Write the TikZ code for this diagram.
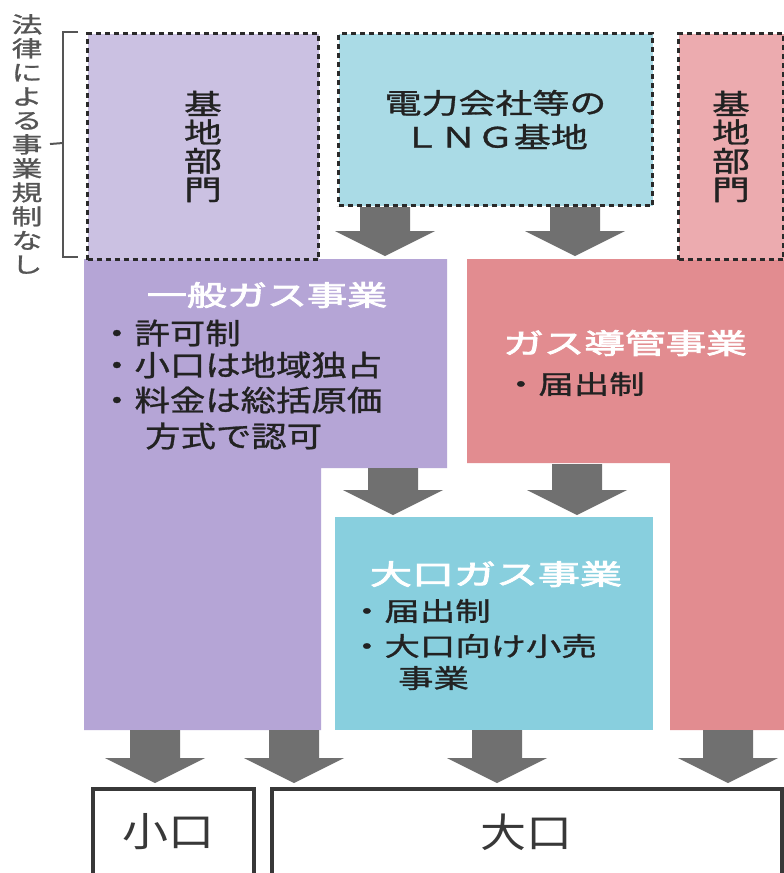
\documentclass[tikz,border=0pt]{standalone}
\usepackage{fontspec}
\usepackage{graphicx}
\newfontfamily\jp{Noto Sans CJK JP}
\newfontfamily\jpm{Noto Sans CJK JP}[FakeBold=1]
\newfontfamily\jpb{Noto Sans CJK JP}[FakeBold=2.5]
\newcommand\wx[2]{\scalebox{#1}[1]{#2}}
\definecolor{purpleDash}{HTML}{CBC1E2}
\definecolor{purpleMain}{HTML}{B5A5D6}
\definecolor{cyanDash}{HTML}{AADBE6}
\definecolor{cyanMain}{HTML}{88CFDE}
\definecolor{pinkDash}{HTML}{ECABAF}
\definecolor{pinkMain}{HTML}{E28C90}
\definecolor{arrowc}{HTML}{707070}
\definecolor{dashc}{HTML}{2A2A2A}
\definecolor{txtc}{HTML}{222222}
\definecolor{boxc}{HTML}{383838}
\definecolor{bracketc}{HTML}{555555}
\tikzset{
  dashbox/.style={draw=dashc, line width=3pt, dash pattern=on 5pt off 4pt,
    inner sep=0pt, anchor=north west, align=center, text=txtc},
  txt/.style={inner sep=0pt, text=txtc},
  body/.style={txt, anchor=west, font=\jpm\fontsize{29}{35}\selectfont},
  bodys/.style={txt, anchor=west, font=\jpm\fontsize{26}{34}\selectfont},
  head/.style={inner sep=0pt, text=white, font=\jpb\fontsize{28}{28}\selectfont},
  vert/.style={font=\jpm\fontsize{28}{28.5}\selectfont},
  outbox/.style={draw=boxc, line width=4pt, inner sep=0pt, anchor=north west},
  bracket/.style={draw=bracketc, line width=2pt},
  darr/.pic={\fill[arrowc] (-25,0) -- (25,0) -- (25,{#1-25}) -- (50,{#1-25})
      -- (0,#1) -- (-50,{#1-25}) -- (-25,{#1-25}) -- cycle;},
  darr/.default=48
}
\begin{document}
\begin{tikzpicture}[x=1pt,y=-1pt]
\useasboundingbox (0,0) rectangle (784,873);
\clip (0,0) rectangle (784,873);
\fill[white] (0,0) rectangle (784,873);

% left label and bracket
\node[txt, align=center, text=bracketc, font=\jpm\fontsize{22}{24}\selectfont] (law) at (27,144)
  {\wx{1.4}{法}\\\wx{1.4}{律}\\\wx{1.4}{に}\\\wx{1.4}{よ}\\\wx{1.4}{る}\\\wx{1.4}{事}\\\wx{1.4}{業}\\\wx{1.4}{規}\\\wx{1.4}{制}\\\wx{1.4}{な}\\\wx{1.4}{し}};
\coordinate (brtop) at (78,32);
\coordinate (brbot) at (78,257);
\coordinate (brmid) at (63,143);
\draw[bracket] (brtop) -- (63,32) -- (63,257) -- (brbot);
\draw[bracket] (brmid) -- (law.east -| 50,0);

% main business areas (L-shapes)
\fill[purpleMain] (84,259) -- (447,259) -- (447,468) -- (321,468) -- (321,730) -- (84,730) -- cycle;
\coordinate (general) at (265,259);
\fill[pinkMain] (467,259) -- (784,259) -- (784,730) -- (670,730) -- (670,463) -- (467,463) -- cycle;
\coordinate (pipe) at (625,259);
\node[fill=cyanMain, inner sep=0pt, minimum width=318, minimum height=213, anchor=north west] (large) at (335,517) {};

% dashed top boxes
\node[dashbox, fill=purpleDash, minimum width=231, minimum height=226, vert] (baseL) at (86,32)
  {\wx{1.35}{基}\\\wx{1.35}{地}\\\wx{1.35}{部}\\\wx{1.35}{門}};
\node[dashbox, fill=cyanDash, minimum width=314, minimum height=172,
      font=\jpm\fontsize{28}{34}\selectfont] (lng) at (337,32)
  {\wx{1.32}{電力会社等の}\\\wx{1.32}{ＬＮＧ基地}};
\node[dashbox, fill=pinkDash, minimum width=105, minimum height=226, vert] (baseR) at (677,32)
  {\wx{1.35}{基}\\\wx{1.35}{地}\\\wx{1.35}{部}\\\wx{1.35}{門}};

% texts
\node[head] (genh) at (267,295) {\wx{1.43}{一般ガス事業}};
\node[body] (g1) at (99,333) {\wx{1.22}{・許可制}};
\node[body] (g2) at (99,365) {\wx{1.22}{・小口は地域独占}};
\node[body] (g3) at (99,400) {\wx{1.22}{・料金は総括原価}};
\node[body] (g4) at (145,436) {\wx{1.22}{方式で認可}};

\node[head] (pipeh) at (625,343) {\wx{1.45}{ガス導管事業}};
\node[bodys] (p1) at (503,384) {\wx{1.36}{・届出制}};

\node[head] (largeh) at (496,574) {\wx{1.5}{大口ガス事業}};
\node[bodys] (l1) at (349,611) {\wx{1.36}{・届出制}};
\node[bodys] (l2) at (349,646) {\wx{1.36}{・大口向け小売}};
\node[bodys] (l3) at (398,678) {\wx{1.36}{事業}};

% arrows
\pic at (lng.south -| 385,0) {darr=49};
\pic at (lng.south -| 575,0) {darr=49};
\pic at (393,468) {darr=47};
\pic at (577,464) {darr=51};
\pic at (155,730) {darr=53};
\pic at (294,730) {darr=53};
\pic at (497,730) {darr=53};
\pic at (728,730) {darr=53};

% bottom boxes
\node[outbox, minimum width=161, minimum height=110] (small) at (91,787) {};
\node[outbox, minimum width=510, minimum height=110] (big) at (270,787) {};
\node[txt, text=boxc, font=\jp\fontsize{40}{40}\selectfont] (smallt) at (168,832) {\wx{1.15}{小口}};
\node[txt, text=boxc, font=\jp\fontsize{40}{40}\selectfont] (bigt) at (526,832) {\wx{1.15}{大口}};
\end{tikzpicture}
\end{document}
